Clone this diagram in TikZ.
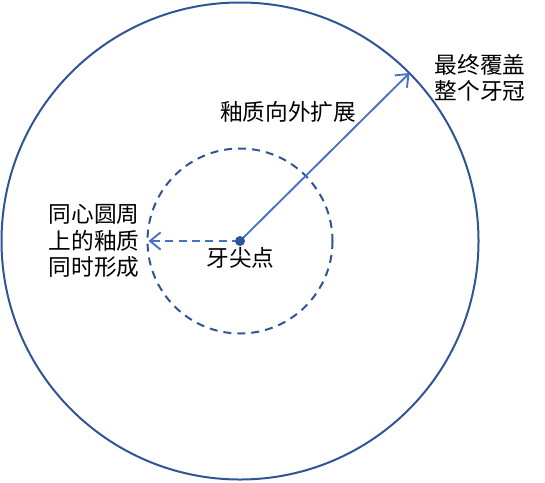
\documentclass[tikz,border=0pt]{standalone}
\usepackage{fontspec}
\setmainfont{Noto Sans CJK SC}
\usetikzlibrary{arrows.meta}
\definecolor{circblue}{HTML}{2F5597}
\definecolor{arrblue}{HTML}{4472C4}
\tikzset{
  circ/.style={draw=circblue, line width=1.5pt},
  arr/.style={draw=arrblue, line width=1.4pt, -{Straight Barb[length=8pt,width=13pt,line width=1.4pt]}},
  lbl/.style={font=\fontsize{17pt}{20pt}\selectfont, inner sep=0pt, align=left}
}
\begin{document}
\begin{tikzpicture}[x=0.75pt,y=-0.75pt]
\useasboundingbox (0,0) rectangle (545,482);
\coordinate (c) at (240,241);
\draw[circ] (c) circle[radius=238.5];
\draw[circ, dashed, dash pattern=on 6pt off 4.5pt] (c) circle[radius=92.5];
\coordinate (tip) at (409.5,73);
\coordinate (ltip) at (148.5,241);
\draw[arr] (c) -- (tip);
\draw[arr, dashed, dash pattern=on 6pt off 4pt] (c) -- (ltip);
\node[circle, fill=circblue, inner sep=0pt, minimum size=7.5pt] (dot) at (c) {};
\node[lbl] (tiplabel) at (240.5,258) {牙尖点};
\node[lbl] (grow) at (288,112) {釉质向外扩展};
\node[lbl] (cover) at (480,78) {最终覆盖\\整个牙冠};
\node[lbl] (conc) at (94,241) {同心圆周\\上的釉质\\同时形成};
\end{tikzpicture}
\end{document}
